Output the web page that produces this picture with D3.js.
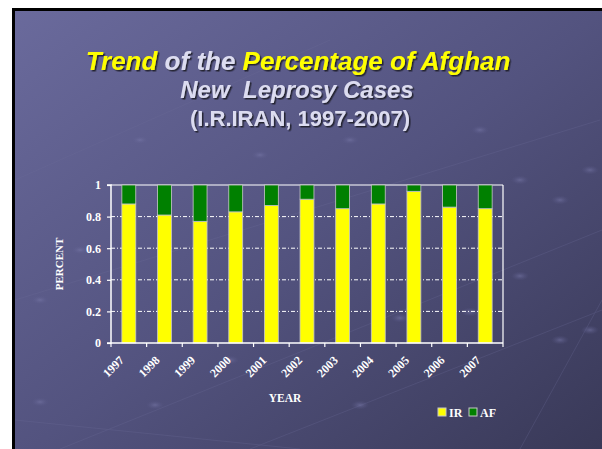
<!DOCTYPE html>
<html><head><meta charset="utf-8">
<script src="https://cdn.jsdelivr.net/npm/d3@7"></script>
<style>html,body{margin:0;padding:0;background:#fff;overflow:hidden}</style>
</head><body>
<svg id="c" width="602" height="449"></svg>
<script>
const years = ["1997","1998","1999","2000","2001","2002","2003","2004","2005","2006","2007"];
const irValues = [0.88,0.81,0.77,0.83,0.87,0.91,0.85,0.88,0.96,0.86,0.85];
const afValues = irValues.map(v => +(1 - v).toFixed(2));
const yTicks = [0,0.2,0.4,0.6,0.8,1];
const seriesNames = ["IR","AF"];
const seriesColors = ["#ffff00","#008000"];

const svg = d3.select("#c");
const defs = svg.append("defs");
const g1 = defs.append("linearGradient").attr("id","bg").attr("x1","0").attr("y1","0").attr("x2","1").attr("y2","1");
g1.append("stop").attr("offset","0").attr("stop-color","#6a6a9c");
g1.append("stop").attr("offset","0.5").attr("stop-color","#53537f");
g1.append("stop").attr("offset","1").attr("stop-color","#383856");
const rg = defs.append("radialGradient").attr("id","bub");
rg.append("stop").attr("offset","0").attr("stop-color","#7a7aaa").attr("stop-opacity",0.55);
rg.append("stop").attr("offset","1").attr("stop-color","#5a5a8a").attr("stop-opacity",0.0);
const sh = defs.append("filter").attr("id","ts").attr("x","-5%").attr("y","-20%").attr("width","110%").attr("height","140%");
sh.append("feDropShadow").attr("dx",1.5).attr("dy",1.5).attr("stdDeviation",0.3).attr("flood-color","#1a1a2a").attr("flood-opacity",0.9);

// slide
svg.append("rect").attr("x",12).attr("y",8).attr("width",600).attr("height",460).attr("fill","#000");
svg.append("rect").attr("x",15).attr("y",11).attr("width",590).attr("height",450).attr("fill","url(#bg)");

// decorative lines and bubbles
const deco = svg.append("g").attr("opacity",0.35);
[[15,180,330,40],[15,300,600,120],[60,449,602,230],[250,449,602,310],[520,449,602,300],[15,420,300,449]].forEach(l=>{
  deco.append("line").attr("x1",l[0]).attr("y1",l[1]).attr("x2",l[2]).attr("y2",l[3]).attr("stroke","#6c6c98").attr("stroke-width",0.8);
});
[[40,402],[155,405],[230,360],[360,405],[400,318],[470,312],[560,340],[590,330],[520,276],[40,300],[80,250],[485,225],[560,200],[590,170],[480,130],[520,180],[140,140],[350,140],[260,155]].forEach(b=>{
  svg.append("ellipse").attr("cx",b[0]).attr("cy",b[1]).attr("rx",9).attr("ry",4.5).attr("fill","url(#bub)");
});

// titles
const title = svg.append("g").attr("filter","url(#ts)").attr("font-family","Liberation Sans, Arial, sans-serif").attr("font-weight","bold").attr("text-anchor","middle");
const t1 = title.append("text").attr("x",298).attr("y",70).attr("font-size",26).attr("font-style","italic");
t1.append("tspan").attr("fill","#ffff00").text("Trend");
t1.append("tspan").attr("fill","#dcdcf0").text(" of the ");
t1.append("tspan").attr("fill","#ffff00").text("Percentage of Afghan");
title.append("text").attr("x",297).attr("y",98).attr("font-size",24).attr("font-style","italic").attr("fill","#dcdcf0").attr("xml:space","preserve").text("New  Leprosy Cases");
title.append("text").attr("x",300).attr("y",126).attr("font-size",22).attr("fill","#dcdcf0").text("(I.R.IRAN, 1997-2007)");

// chart
const L = 111, R = 503, T = 185, B = 343;
const x = d3.scaleBand().domain(years).range([L,R]).paddingInner(0.61).paddingOuter(0.305);
const y = d3.scaleLinear().domain([0,1]).range([B,T]);
const serif = "Liberation Serif, Times New Roman, serif";

const grid = svg.append("g");
yTicks.filter(t=>t>0 && t<1).forEach(t=>{
  grid.append("line").attr("x1",L).attr("x2",R).attr("y1",y(t)).attr("y2",y(t))
    .attr("stroke","#fff").attr("stroke-width",1).attr("stroke-dasharray","4,2,1,2");
});
svg.append("line").attr("x1",L).attr("x2",R).attr("y1",y(1)).attr("y2",y(1)).attr("stroke","#fff").attr("stroke-width",1.2);
svg.append("line").attr("x1",R).attr("x2",R).attr("y1",T).attr("y2",B).attr("stroke","#fff").attr("stroke-width",1.2);

const stackData = years.map((yr,i)=>({year:yr, IR:irValues[i], AF:afValues[i]}));
const stacked = d3.stack().keys(seriesNames)(stackData);
svg.append("g").selectAll("g").data(stacked).join("g")
  .attr("fill",(d,i)=>seriesColors[i])
  .selectAll("rect").data(d=>d).join("rect")
  .attr("x",d=>x(d.data.year)).attr("width",x.bandwidth())
  .attr("y",d=>y(Math.min(1,d[1]))).attr("height",d=>y(d[0])-y(Math.min(1,d[1])))
  .attr("stroke","#c8c8c8").attr("stroke-width",0.8);

// y axis
const yAxis = svg.append("g").attr("transform",`translate(${L},0)`)
  .call(d3.axisLeft(y).tickValues(yTicks).tickFormat(d=>d3.format("")(d)).tickSize(4).tickPadding(6));
yAxis.select(".domain").attr("stroke","#fff").attr("stroke-width",1.5).attr("d",`M-4,${B}H0V${T}H-4`);
yAxis.selectAll(".tick line").attr("stroke","#fff").attr("stroke-width",1.2);
yAxis.selectAll("text").attr("fill","#fff").attr("font-family",serif).attr("font-weight","bold").attr("font-size",12);

// x axis
const step = x.step();
const boundaries = d3.range(years.length+1).map(i=>L+i*step);
const xAxis = svg.append("g").attr("transform",`translate(0,${B})`);
xAxis.append("line").attr("x1",L).attr("x2",R).attr("stroke","#fff").attr("stroke-width",1.5);
xAxis.selectAll("line.tk").data(boundaries).join("line").attr("class","tk")
  .attr("x1",d=>d).attr("x2",d=>d).attr("y1",0).attr("y2",4).attr("stroke","#fff").attr("stroke-width",1.2);
xAxis.selectAll("text").data(years).join("text")
  .attr("transform",d=>`translate(${x(d)+x.bandwidth()/2-4},${18}) rotate(-45)`)
  .attr("text-anchor","end").attr("fill","#fff").attr("font-family",serif).attr("font-weight","bold").attr("font-size",12)
  .text(d=>d);

svg.append("text").attr("transform",`translate(63,${(T+B)/2}) rotate(-90)`).attr("text-anchor","middle")
  .attr("fill","#fff").attr("font-family",serif).attr("font-weight","bold").attr("font-size",11).text("PERCENT");
svg.append("text").attr("x",285).attr("y",402).attr("text-anchor","middle")
  .attr("fill","#fff").attr("font-family",serif).attr("font-weight","bold").attr("font-size",11.5).text("YEAR");

// legend
const lg = svg.append("g").attr("transform","translate(438,408)");
const lx = [0,31];
seriesNames.forEach((s,i)=>{
  lg.append("rect").attr("x",lx[i]).attr("y",0).attr("width",8).attr("height",8).attr("fill",seriesColors[i]).attr("stroke","#c8c8c8").attr("stroke-width",1);
  lg.append("text").attr("x",lx[i]+11).attr("y",8.5).attr("fill","#fff").attr("font-family",serif).attr("font-weight","bold").attr("font-size",12).text(s);
});
</script>
</body></html>
